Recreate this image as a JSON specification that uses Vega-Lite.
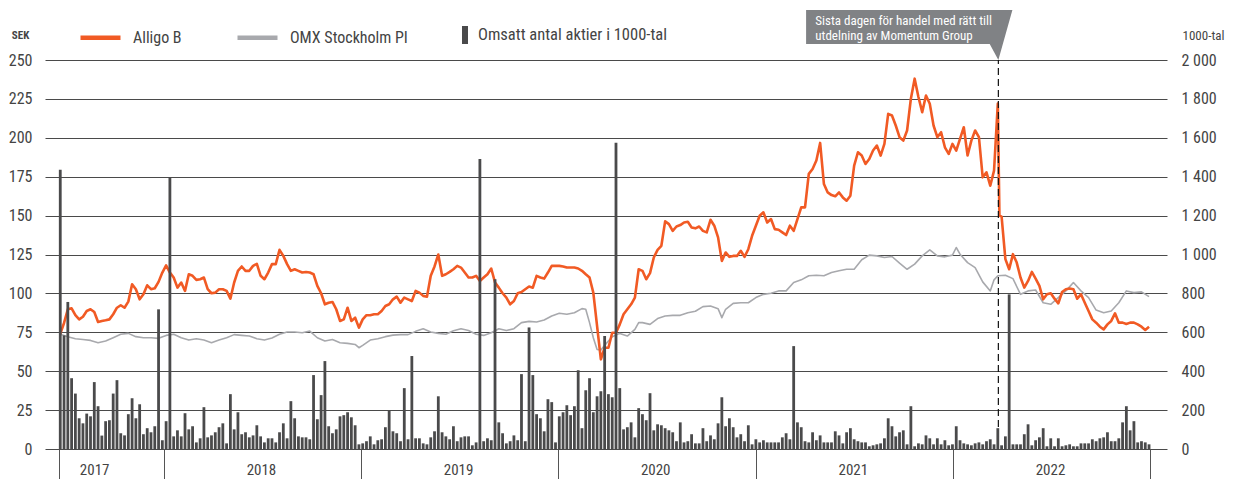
{
"$schema":"https://vega.github.io/schema/vega-lite/v6.json",
"width":1122,"height":389,
"autosize":{"type":"none"},
"padding":{"left":45,"top":60,"right":69,"bottom":30},
"background":"white",
"config":{"font":"Roboto Condensed, Roboto, sans-serif","view":{"stroke":null},
 "axisX":{"title":null,"grid":false,"domain":false,"ticks":true,"tickSize":30,"tickColor":"#555","tickWidth":1,
   "labelExpr":"utcyear(datum.value) < 2023 ? '' + utcyear(datum.value) : ''",
   "labelOffset":{"condition":{"test":"utcyear(datum.value) == 2017","value":35},"value":97},
   "labelAlign":"center","labelBaseline":"top","labelPadding":-17,"labelFontSize":15,"labelColor":"#444","labelFlush":false,"labelOverlap":false,"labelBound":false},
 "axisLeft":{"labelOverlap":false,"grid":true,"gridColor":"#4a4a4a","gridWidth":1,"domain":false,"ticks":false,"labelPadding":13,"labelFontSize":16,"labelColor":"#444",
   "titleAngle":0,"titleX":-25,"titleY":-25,"titleAlign":"center","titleBaseline":"middle","titleFontSize":11,"titleFontWeight":"bold","titleColor":"#444"},
 "axisRight":{"labelOverlap":false,"grid":false,"domain":false,"ticks":false,"labelPadding":14,"labelFontSize":16,"labelColor":"#444",
   "labelExpr":"replace(format(datum.value, ','), ',', ' ')",
   "titleAngle":0,"titleX":15,"titleY":-25,"titleAlign":"left","titleBaseline":"middle","titleFontSize":13,"titleFontWeight":"normal","titleColor":"#444"}
},
"datasets":{
"weeks":[
{"d":"2017-06-23","a":74,"v":1436,"o":73.7},{"d":"2017-06-30","a":81,"v":584},{"d":"2017-07-07","a":89.8,"v":756,"o":72.2},{"d":"2017-07-14","a":90.4,"v":364},{"d":"2017-07-21","a":86,"v":285,"o":70.9},{"d":"2017-07-28","a":83.3,"v":158},{"d":"2017-08-04","a":85,"v":132,"o":70.4},{"d":"2017-08-11","a":88.7,"v":182},{"d":"2017-08-18","a":89.8,"v":168,"o":69.8},{"d":"2017-08-25","a":88,"v":344},{"d":"2017-09-01","a":81.6,"v":220,"o":68.3},{"d":"2017-09-08","a":82.3,"v":69},{"d":"2017-09-15","a":82.7,"v":143,"o":69.4},{"d":"2017-09-22","a":83.3,"v":148},{"d":"2017-09-29","a":86.6,"v":285,"o":71.5},{"d":"2017-10-06","a":90.8,"v":354},{"d":"2017-10-13","a":92.4,"v":81,"o":73.7},{"d":"2017-10-20","a":90.8,"v":70},{"d":"2017-10-27","a":94.7,"v":179,"o":74.3},{"d":"2017-11-03","a":105.9,"v":261},{"d":"2017-11-10","a":102.7,"v":158,"o":72.2},{"d":"2017-11-17","a":96.2,"v":230},{"d":"2017-11-24","a":99.4,"v":76,"o":71.5},{"d":"2017-12-01","a":105.2,"v":107},{"d":"2017-12-08","a":102.7,"v":86,"o":71.5},{"d":"2017-12-15","a":103.3,"v":117},{"d":"2017-12-22","a":107.4,"v":718,"o":71.1},{"d":"2017-12-29","a":113.4,"v":45},
{"d":"2018-01-05","a":118,"v":143,"o":73},{"d":"2018-01-12","a":113.4,"v":1397},{"d":"2018-01-19","a":110.2,"v":65,"o":73.7},{"d":"2018-01-26","a":103.7,"v":96},{"d":"2018-02-02","a":107,"v":65,"o":71.5},{"d":"2018-02-09","a":101.6,"v":184},{"d":"2018-02-16","a":112.3,"v":101,"o":70},{"d":"2018-02-23","a":111.3,"v":117},{"d":"2018-03-02","a":108.7,"v":34,"o":70.9},{"d":"2018-03-09","a":109.1,"v":55},{"d":"2018-03-16","a":110.2,"v":215,"o":70},{"d":"2018-03-23","a":102.7,"v":60},{"d":"2018-03-30","a":100.1,"v":70,"o":68.3},{"d":"2018-04-06","a":100.5,"v":86},{"d":"2018-04-13","a":102.7,"v":112,"o":70},{"d":"2018-04-20","a":102.7,"v":132},{"d":"2018-04-27","a":101.6,"v":29,"o":71.5},{"d":"2018-05-04","a":96.6,"v":282},{"d":"2018-05-11","a":107,"v":101,"o":73.5},{"d":"2018-05-18","a":114.5,"v":189},{"d":"2018-05-25","a":117.3,"v":76,"o":73},{"d":"2018-06-01","a":114.5,"v":86},{"d":"2018-06-08","a":114.5,"v":60,"o":72.6},{"d":"2018-06-15","a":117.7,"v":70},{"d":"2018-06-22","a":119,"v":122,"o":70.9},{"d":"2018-06-29","a":111.3,"v":65},{"d":"2018-07-06","a":109.1,"v":34,"o":70},{"d":"2018-07-13","a":113.4,"v":55},{"d":"2018-07-20","a":118.8,"v":55,"o":71.3},{"d":"2018-07-27","a":118.8,"v":34},{"d":"2018-08-03","a":128,"v":86,"o":73.7},{"d":"2018-08-10","a":124.1,"v":132},{"d":"2018-08-17","a":118.8,"v":55,"o":75.2},{"d":"2018-08-24","a":114.5,"v":246},{"d":"2018-08-31","a":115.5,"v":158,"o":75.2},{"d":"2018-09-07","a":114.5,"v":65},{"d":"2018-09-14","a":113.4,"v":60,"o":74.7},{"d":"2018-09-21","a":113.8,"v":60},{"d":"2018-09-28","a":113.4,"v":50,"o":75.8},{"d":"2018-10-05","a":112.3,"v":380},{"d":"2018-10-12","a":104.8,"v":153,"o":71.5},{"d":"2018-10-19","a":100.1,"v":277},{"d":"2018-10-26","a":93,"v":452,"o":69.4},{"d":"2018-11-02","a":94,"v":117},{"d":"2018-11-09","a":94.5,"v":81,"o":70.4},{"d":"2018-11-16","a":89.8,"v":101},{"d":"2018-11-23","a":82.3,"v":168,"o":68.3},{"d":"2018-11-30","a":83.3,"v":174},{"d":"2018-12-07","a":90.8,"v":189,"o":67.9},{"d":"2018-12-14","a":82.3,"v":163},{"d":"2018-12-21","a":84.4,"v":122,"o":67.2},{"d":"2018-12-28","a":78,"v":24,"o":65.1},
{"d":"2019-01-04","a":83.3,"v":29,"o":66.6},{"d":"2019-01-11","a":86,"v":40},{"d":"2019-01-18","a":86,"v":65,"o":70},{"d":"2019-01-25","a":86.6,"v":24},{"d":"2019-02-01","a":86.6,"v":45,"o":70.9},{"d":"2019-02-08","a":88.7,"v":50},{"d":"2019-02-15","a":91.9,"v":112,"o":72.2},{"d":"2019-02-22","a":93,"v":199},{"d":"2019-03-01","a":96.2,"v":91,"o":73.2},{"d":"2019-03-08","a":97.9,"v":81},{"d":"2019-03-15","a":94,"v":40,"o":73.5},{"d":"2019-03-22","a":97.3,"v":313},{"d":"2019-03-29","a":96.2,"v":50,"o":73.5},{"d":"2019-04-05","a":95.1,"v":478},{"d":"2019-04-12","a":101.6,"v":55,"o":75.6},{"d":"2019-04-19","a":100.5,"v":55},{"d":"2019-04-26","a":98.4,"v":29,"o":77.3},{"d":"2019-05-03","a":97.9,"v":24},{"d":"2019-05-10","a":111.3,"v":60,"o":75.2},{"d":"2019-05-17","a":117.3,"v":91},{"d":"2019-05-24","a":125,"v":271,"o":74.3},{"d":"2019-05-31","a":111.3,"v":86},{"d":"2019-06-07","a":112.3,"v":65,"o":73.7},{"d":"2019-06-14","a":113.8,"v":50},{"d":"2019-06-21","a":115.5,"v":117,"o":76},{"d":"2019-06-28","a":117.7,"v":40},{"d":"2019-07-05","a":116.6,"v":60,"o":77.3},{"d":"2019-07-12","a":113.4,"v":65},{"d":"2019-07-19","a":110.2,"v":65,"o":76.2},{"d":"2019-07-26","a":110.2,"v":19},{"d":"2019-08-02","a":111.3,"v":34,"o":73.7},{"d":"2019-08-09","a":108,"v":1491},{"d":"2019-08-16","a":110.2,"v":40,"o":73},{"d":"2019-08-23","a":112.3,"v":55},{"d":"2019-08-30","a":116,"v":45,"o":74.7},{"d":"2019-09-06","a":107,"v":873},{"d":"2019-09-13","a":103.7,"v":137,"o":77.3},{"d":"2019-09-20","a":100.1,"v":81},{"d":"2019-09-27","a":97.3,"v":29,"o":76.2},{"d":"2019-10-04","a":93,"v":40},{"d":"2019-10-11","a":95.1,"v":70,"o":77.3},{"d":"2019-10-18","a":100.1,"v":45},{"d":"2019-10-25","a":100.9,"v":385,"o":81.2},{"d":"2019-11-01","a":102.7,"v":40},{"d":"2019-11-08","a":104.4,"v":625,"o":82},{"d":"2019-11-15","a":103.7,"v":380},{"d":"2019-11-22","a":111.3,"v":179,"o":81.6},{"d":"2019-11-29","a":110.2,"v":158},{"d":"2019-12-06","a":109.5,"v":91,"o":82.9},{"d":"2019-12-13","a":113.4,"v":256},{"d":"2019-12-20","a":117.7,"v":241,"o":85.5},{"d":"2019-12-27","a":117.7,"v":34},
{"d":"2020-01-03","a":117.7,"v":168,"o":87.2},{"d":"2020-01-10","a":117.3,"v":189},{"d":"2020-01-17","a":116.6,"v":225,"o":86.6},{"d":"2020-01-24","a":116.6,"v":174},{"d":"2020-01-31","a":116.6,"v":220,"o":87.6},{"d":"2020-02-07","a":116,"v":405},{"d":"2020-02-14","a":114.5,"v":107,"o":90.2},{"d":"2020-02-21","a":112.3,"v":302,"o":89.8},{"d":"2020-02-28","a":110.2,"v":364,"o":81.2},{"d":"2020-03-06","a":100.5,"v":189,"o":71.5},{"d":"2020-03-13","a":79,"v":271,"o":64},{"d":"2020-03-20","a":57.6,"v":297,"o":63.6},{"d":"2020-03-27","a":65.1,"v":581,"o":66.6},{"d":"2020-04-03","a":65.1,"v":282,"o":69.4},{"d":"2020-04-10","a":74.7,"v":266,"o":72.2},{"d":"2020-04-17","a":74.7,"v":1574},{"d":"2020-04-24","a":80.1,"v":313,"o":74.3},{"d":"2020-05-01","a":86.6,"v":101},{"d":"2020-05-08","a":89.8,"v":112,"o":72.6},{"d":"2020-05-15","a":93,"v":137},{"d":"2020-05-22","a":97.3,"v":60,"o":76.9},{"d":"2020-05-29","a":115.5,"v":210,"o":81.2},{"d":"2020-06-05","a":114.5,"v":179,"o":81.2},{"d":"2020-06-12","a":109.1,"v":148},{"d":"2020-06-19","a":113,"v":287,"o":80.1},{"d":"2020-06-26","a":123.1,"v":96},{"d":"2020-07-03","a":128,"v":127,"o":83.8},{"d":"2020-07-10","a":130.6,"v":122},{"d":"2020-07-17","a":146.3,"v":107,"o":85.5},{"d":"2020-07-24","a":144.5,"v":96},{"d":"2020-07-31","a":140.2,"v":86,"o":85.9},{"d":"2020-08-07","a":143,"v":40},{"d":"2020-08-14","a":143.9,"v":137,"o":85.9},{"d":"2020-08-21","a":145.6,"v":34},{"d":"2020-08-28","a":146,"v":40,"o":87.6},{"d":"2020-09-04","a":142.4,"v":76},{"d":"2020-09-11","a":141.8,"v":29,"o":88.5},{"d":"2020-09-18","a":143,"v":29},{"d":"2020-09-25","a":140.2,"v":107,"o":91.5},{"d":"2020-10-02","a":139.2,"v":40},{"d":"2020-10-09","a":147.3,"v":70,"o":91.9},{"d":"2020-10-16","a":143.5,"v":50},{"d":"2020-10-23","a":136,"v":132,"o":90.2},{"d":"2020-10-30","a":120.9,"v":266,"o":84.4},{"d":"2020-11-06","a":126.3,"v":117,"o":89.8},{"d":"2020-11-13","a":123.5,"v":158},{"d":"2020-11-20","a":124.1,"v":112,"o":93.6},{"d":"2020-11-27","a":124.1,"v":60},{"d":"2020-12-04","a":127.4,"v":76,"o":94},{"d":"2020-12-11","a":123.5,"v":40},{"d":"2020-12-18","a":128.4,"v":122,"o":94},{"d":"2020-12-25","a":137,"v":24},
{"d":"2021-01-01","a":143.5,"v":50,"o":97.3},{"d":"2021-01-08","a":149.9,"v":34},{"d":"2021-01-15","a":152.1,"v":45,"o":99.4},{"d":"2021-01-22","a":145.6,"v":34},{"d":"2021-01-29","a":147.8,"v":34,"o":100.1},{"d":"2021-02-05","a":141.3,"v":34},{"d":"2021-02-12","a":140.9,"v":34,"o":101.6},{"d":"2021-02-19","a":139.2,"v":60},{"d":"2021-02-26","a":137.5,"v":81,"o":101.6},{"d":"2021-03-05","a":143.5,"v":50},{"d":"2021-03-12","a":140.2,"v":529,"o":107},{"d":"2021-03-19","a":147.8,"v":137},{"d":"2021-03-26","a":155.3,"v":112,"o":108.7},{"d":"2021-04-02","a":155.3,"v":40},{"d":"2021-04-09","a":176.8,"v":34,"o":111.3},{"d":"2021-04-16","a":180,"v":86},{"d":"2021-04-23","a":185.4,"v":45,"o":111.7},{"d":"2021-04-30","a":196.7,"v":70},{"d":"2021-05-07","a":170.3,"v":34,"o":111.3},{"d":"2021-05-14","a":164.9,"v":34},{"d":"2021-05-21","a":163.2,"v":34,"o":113.4},{"d":"2021-05-28","a":162.4,"v":91},{"d":"2021-06-04","a":164.9,"v":70,"o":114.5},{"d":"2021-06-11","a":161.7,"v":29},{"d":"2021-06-18","a":159.6,"v":86,"o":115.5},{"d":"2021-06-25","a":162.8,"v":107},{"d":"2021-07-02","a":182.1,"v":50,"o":115.5},{"d":"2021-07-09","a":190.7,"v":40},{"d":"2021-07-16","a":188.6,"v":34,"o":121.6},{"d":"2021-07-23","a":183.2,"v":34},{"d":"2021-07-30","a":186.4,"v":14,"o":124.6},{"d":"2021-08-06","a":191.8,"v":19},{"d":"2021-08-13","a":195,"v":24,"o":124.1},{"d":"2021-08-20","a":188.6,"v":29},{"d":"2021-08-27","a":196.1,"v":55,"o":123.1},{"d":"2021-09-03","a":215.4,"v":158},{"d":"2021-09-10","a":214.3,"v":117,"o":123.7},{"d":"2021-09-17","a":207.9,"v":65},{"d":"2021-09-24","a":200.4,"v":86,"o":119.4},{"d":"2021-10-01","a":198.2,"v":96},{"d":"2021-10-08","a":204.7,"v":24,"o":115.5},{"d":"2021-10-15","a":225.1,"v":220},{"d":"2021-10-22","a":238,"v":14,"o":118.8},{"d":"2021-10-29","a":226.2,"v":29},{"d":"2021-11-05","a":216.5,"v":24,"o":124.1},{"d":"2021-11-12","a":227.2,"v":70},{"d":"2021-11-19","a":221.9,"v":55,"o":128},{"d":"2021-11-26","a":207.9,"v":24},{"d":"2021-12-03","a":200.4,"v":55,"o":124.1},{"d":"2021-12-10","a":203.6,"v":24},{"d":"2021-12-17","a":193.9,"v":45,"o":123.5},{"d":"2021-12-24","a":189.6,"v":19},{"d":"2021-12-31","a":196.1,"v":24,"o":124.6},
{"d":"2022-01-07","a":191.8,"v":117,"o":129.5},{"d":"2022-01-14","a":199.3,"v":45,"o":125.2},{"d":"2022-01-21","a":206.8,"v":29},{"d":"2022-01-28","a":188.6,"v":24,"o":119.8},{"d":"2022-02-04","a":198.2,"v":19},{"d":"2022-02-11","a":204.7,"v":29,"o":116.6},{"d":"2022-02-18","a":200.4,"v":34},{"d":"2022-02-25","a":174.6,"v":24,"o":107.4},{"d":"2022-03-04","a":177.8,"v":40},{"d":"2022-03-11","a":169.2,"v":50,"o":101.6},{"d":"2022-03-18","a":178.9,"v":24,"o":108.7},{"d":"2022-03-25","a":222,"v":107,"o":111.3},{"d":"2022-03-28","a":150},{"d":"2022-04-01","a":149.3,"v":19},{"d":"2022-04-08","a":122,"v":65,"o":111.7},{"d":"2022-04-15","a":115.5,"v":795},{"d":"2022-04-22","a":125.2,"v":24,"o":109.5},{"d":"2022-04-29","a":119.8,"v":24},{"d":"2022-05-06","a":110.2,"v":24,"o":99.4},{"d":"2022-05-13","a":103.7,"v":76},{"d":"2022-05-20","a":108,"v":127,"o":101.6},{"d":"2022-05-27","a":113.8,"v":19},{"d":"2022-06-03","a":109.5,"v":45,"o":102.2},{"d":"2022-06-10","a":104.8,"v":60},{"d":"2022-06-17","a":96.2,"v":107,"o":94},{"d":"2022-06-24","a":99.4,"v":14},{"d":"2022-07-01","a":100.1,"v":55,"o":93},{"d":"2022-07-08","a":96.6,"v":14},{"d":"2022-07-15","a":93.6,"v":55,"o":97.3},{"d":"2022-07-22","a":100.9,"v":14},{"d":"2022-07-29","a":102.7,"v":19,"o":101.6},{"d":"2022-08-05","a":103.1,"v":24},{"d":"2022-08-12","a":102.7,"v":14,"o":107},{"d":"2022-08-19","a":96.6,"v":14},{"d":"2022-08-26","a":99.4,"v":29,"o":101.6},{"d":"2022-09-02","a":94,"v":29},{"d":"2022-09-09","a":88.7,"v":29,"o":97.3},{"d":"2022-09-16","a":83.3,"v":50},{"d":"2022-09-23","a":81.2,"v":40,"o":89.3},{"d":"2022-09-30","a":78.6,"v":55},{"d":"2022-10-07","a":76.9,"v":60,"o":87.6},{"d":"2022-10-14","a":80.1,"v":86},{"d":"2022-10-21","a":82.3,"v":40,"o":88.7},{"d":"2022-10-28","a":87.2,"v":40},{"d":"2022-11-04","a":81.2,"v":55,"o":94},{"d":"2022-11-11","a":81.2,"v":137},{"d":"2022-11-18","a":80.3,"v":220,"o":101.6},{"d":"2022-11-25","a":81.2,"v":96},{"d":"2022-12-02","a":81.2,"v":143,"o":100.5},{"d":"2022-12-09","a":80.1,"v":34},{"d":"2022-12-16","a":78.6,"v":40,"o":101},{"d":"2022-12-23","a":76.5,"v":34},{"d":"2022-12-30","a":78.6,"v":24,"o":97.9}
],
"box":[{"d":"2021-04-04","top":282.1,"bot":260.3},{"d":"2022-03-10","top":282.1,"bot":260.3},{"d":"2022-03-26","top":282.1,"bot":250},{"d":"2022-04-21","top":282.1,"bot":282.1}],
"note":[{"d":"2021-04-21","y":275.1,"t":"Sista dagen för handel med rätt till"},{"d":"2021-04-21","y":265.4,"t":"utdelning av Momentum Group"}],
"event":[{"d":"2022-03-26","y0":0,"y1":250}]
},
"layer":[
{"layer":[
 {"data":{"name":"weeks"},"transform":[{"filter":"isValid(datum.o)"}],
  "mark":{"type":"line","strokeWidth":1.6,"strokeJoin":"round"},
  "encoding":{
   "x":{"field":"d","type":"temporal","title":null,"scale":{"type":"utc","domain":[{"year":2017,"month":6,"date":4,"utc":true},{"year":2023,"month":1,"date":23,"utc":true}]},"axis":{"values":[{"year":2017,"month":6,"date":21,"utc":true},{"year":2018,"month":1,"date":1,"utc":true},{"year":2019,"month":1,"date":1,"utc":true},{"year":2020,"month":1,"date":1,"utc":true},{"year":2021,"month":1,"date":1,"utc":true},{"year":2022,"month":1,"date":1,"utc":true},{"year":2023,"month":1,"date":1,"utc":true}]}},
   "y":{"field":"o","type":"quantitative","title":"SEK","scale":{"domain":[0,250],"nice":false},"axis":{"values":[0,25,50,75,100,125,150,175,200,225,250]}},
   "stroke":{"datum":"OMX Stockholm PI","scale":{"domain":["Alligo B","OMX Stockholm PI"],"range":["#f15a24","#a8a9ad"]},
        "legend":{"orient":"none","legendX":33,"legendY":-45,"direction":"horizontal","title":null,"symbolType":"stroke","symbolSize":1600,"symbolStrokeWidth":4.5,"labelFontSize":16,"labelColor":"#444","labelOffset":10,"columnPadding":46,"labelLimit":300,"padding":0}}
  }},
 {"data":{"name":"weeks"},
  "mark":{"type":"line","strokeWidth":2.6,"strokeJoin":"round"},
  "encoding":{
   "x":{"field":"d","type":"temporal","title":null,"scale":{"type":"utc","domain":[{"year":2017,"month":6,"date":4,"utc":true},{"year":2023,"month":1,"date":23,"utc":true}]},"axis":{"values":[{"year":2017,"month":6,"date":21,"utc":true},{"year":2018,"month":1,"date":1,"utc":true},{"year":2019,"month":1,"date":1,"utc":true},{"year":2020,"month":1,"date":1,"utc":true},{"year":2021,"month":1,"date":1,"utc":true},{"year":2022,"month":1,"date":1,"utc":true},{"year":2023,"month":1,"date":1,"utc":true}]}},
   "y":{"field":"a","type":"quantitative","title":"SEK","scale":{"domain":[0,250],"nice":false},"axis":{"values":[0,25,50,75,100,125,150,175,200,225,250]}},
   "stroke":{"datum":"Alligo B","scale":{"domain":["Alligo B","OMX Stockholm PI"],"range":["#f15a24","#a8a9ad"]}}
  }},
 {"data":{"name":"box"},
  "mark":{"type":"area","orient":"vertical","color":"#808285","clip":false},
  "encoding":{
   "x":{"field":"d","type":"temporal","title":null,"scale":{"type":"utc","domain":[{"year":2017,"month":6,"date":4,"utc":true},{"year":2023,"month":1,"date":23,"utc":true}]},"axis":{"values":[{"year":2017,"month":6,"date":21,"utc":true},{"year":2018,"month":1,"date":1,"utc":true},{"year":2019,"month":1,"date":1,"utc":true},{"year":2020,"month":1,"date":1,"utc":true},{"year":2021,"month":1,"date":1,"utc":true},{"year":2022,"month":1,"date":1,"utc":true},{"year":2023,"month":1,"date":1,"utc":true}]}},
   "y":{"field":"top","type":"quantitative","title":"SEK","scale":{"domain":[0,250],"nice":false},"axis":{"values":[0,25,50,75,100,125,150,175,200,225,250]}},
   "y2":{"field":"bot"}
  }},
 {"data":{"name":"note"},
  "mark":{"type":"text","align":"left","baseline":"middle","color":"white","fontSize":13,"clip":false},
  "encoding":{
   "x":{"field":"d","type":"temporal","title":null,"scale":{"type":"utc","domain":[{"year":2017,"month":6,"date":4,"utc":true},{"year":2023,"month":1,"date":23,"utc":true}]},"axis":{"values":[{"year":2017,"month":6,"date":21,"utc":true},{"year":2018,"month":1,"date":1,"utc":true},{"year":2019,"month":1,"date":1,"utc":true},{"year":2020,"month":1,"date":1,"utc":true},{"year":2021,"month":1,"date":1,"utc":true},{"year":2022,"month":1,"date":1,"utc":true},{"year":2023,"month":1,"date":1,"utc":true}]}},
   "y":{"field":"y","type":"quantitative","title":"SEK","scale":{"domain":[0,250],"nice":false},"axis":{"values":[0,25,50,75,100,125,150,175,200,225,250]}},
   "text":{"field":"t"}
  }},
 {"data":{"name":"event"},
  "mark":{"type":"rule","color":"#111","strokeWidth":1.2,"strokeDash":[7,4]},
  "encoding":{
   "x":{"field":"d","type":"temporal","title":null,"scale":{"type":"utc","domain":[{"year":2017,"month":6,"date":4,"utc":true},{"year":2023,"month":1,"date":23,"utc":true}]},"axis":{"values":[{"year":2017,"month":6,"date":21,"utc":true},{"year":2018,"month":1,"date":1,"utc":true},{"year":2019,"month":1,"date":1,"utc":true},{"year":2020,"month":1,"date":1,"utc":true},{"year":2021,"month":1,"date":1,"utc":true},{"year":2022,"month":1,"date":1,"utc":true},{"year":2023,"month":1,"date":1,"utc":true}]}},
   "y":{"field":"y0","type":"quantitative","title":"SEK","scale":{"domain":[0,250],"nice":false},"axis":{"values":[0,25,50,75,100,125,150,175,200,225,250]}},
   "y2":{"field":"y1"}
  }}
]},
{"data":{"name":"weeks"},"transform":[{"filter":"isValid(datum.v)"}],
 "mark":{"type":"bar","width":2.8},
 "encoding":{
  "x":{"field":"d","type":"temporal","title":null,"scale":{"type":"utc","domain":[{"year":2017,"month":6,"date":4,"utc":true},{"year":2023,"month":1,"date":23,"utc":true}]},"axis":{"values":[{"year":2017,"month":6,"date":21,"utc":true},{"year":2018,"month":1,"date":1,"utc":true},{"year":2019,"month":1,"date":1,"utc":true},{"year":2020,"month":1,"date":1,"utc":true},{"year":2021,"month":1,"date":1,"utc":true},{"year":2022,"month":1,"date":1,"utc":true},{"year":2023,"month":1,"date":1,"utc":true}]}},
  "y":{"field":"v","type":"quantitative","title":"1000-tal","scale":{"domain":[0,2000],"nice":false},"axis":{"orient":"right","values":[0,200,400,600,800,1000,1200,1400,1600,1800,2000]}},
  "fill":{"datum":"Omsatt antal aktier i 1000-tal","scale":{"range":["#4a4a4b"]},
       "legend":{"orient":"none","legendX":410,"legendY":-35,"title":null,"symbolType":"M-0.3,-0.9H0.3V0.9H-0.3Z","symbolSize":400,"symbolStrokeWidth":0,"labelFontSize":16.5,"labelColor":"#444","labelOffset":3,"labelLimit":300,"padding":0}}
 }}
],
"resolve":{"scale":{"y":"independent"}}
}
